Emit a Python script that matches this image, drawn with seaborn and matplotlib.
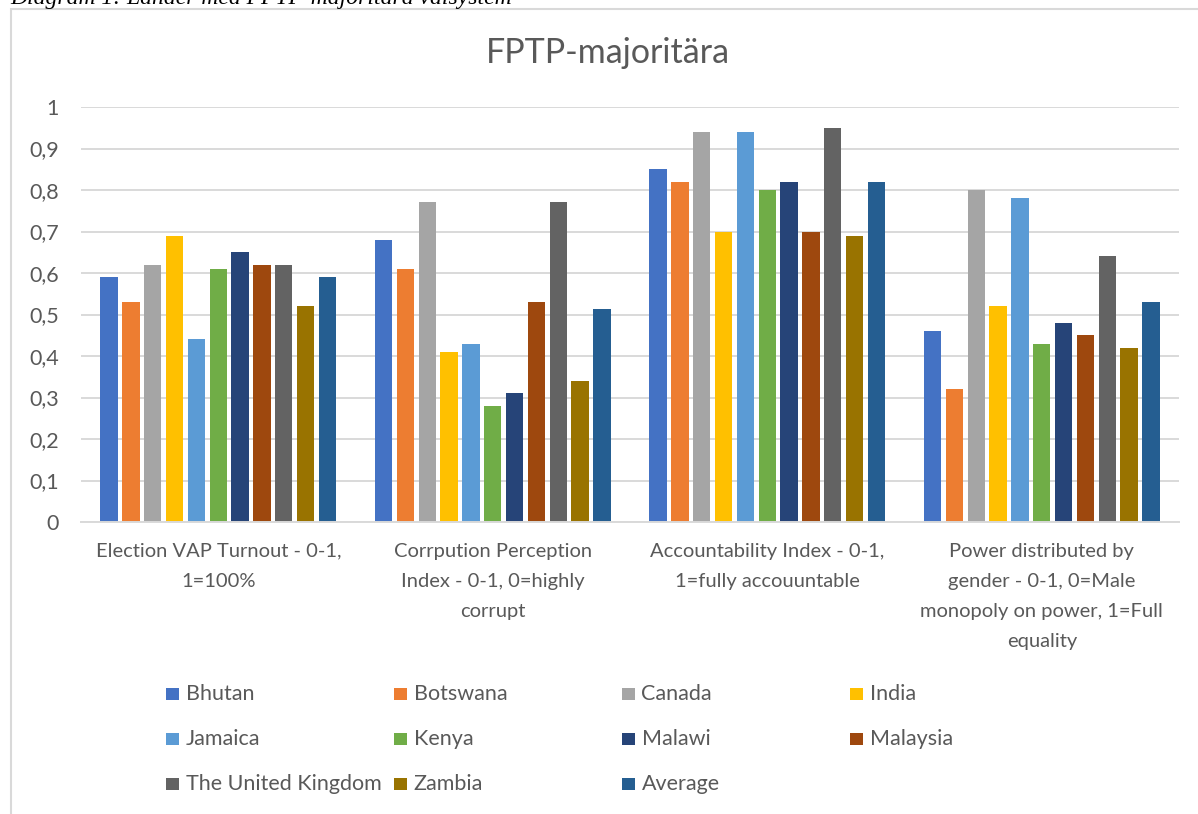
import numpy as np
import pandas as pd
import matplotlib
matplotlib.use("Agg")
import matplotlib.pyplot as plt
from matplotlib.patches import Rectangle
import seaborn as sns

# ---- data ----
categories = [
    "Election VAP Turnout - 0-1,\n1=100%",
    "Corrpution Perception\nIndex - 0-1, 0=highly\ncorrupt",
    "Accountability Index - 0-1,\n1=fully accouuntable",
    "Power distributed by\ngender - 0-1, 0=Male\nmonopoly on power, 1=Full\nequality",
]
countries = ["Bhutan", "Botswana", "Canada", "India", "Jamaica", "Kenya",
             "Malawi", "Malaysia", "The United Kingdom", "Zambia", "Average"]
turnout        = [0.59, 0.53, 0.62, 0.69, 0.44, 0.61, 0.65, 0.62, 0.62, 0.52, 0.59]
corruption     = [0.68, 0.61, 0.77, 0.41, 0.43, 0.28, 0.31, 0.53, 0.77, 0.34, 0.513]
accountability = [0.85, 0.82, 0.94, 0.70, 0.94, 0.80, 0.82, 0.70, 0.95, 0.69, 0.82]
gender_power   = [0.46, 0.32, 0.80, 0.52, 0.78, 0.43, 0.48, 0.45, 0.64, 0.42, 0.53]
colors = ["#4472C4", "#ED7D31", "#A5A5A5", "#FFC000", "#5B9BD5", "#70AD47",
          "#264478", "#9E480E", "#636363", "#997300", "#255E91"]
ytick_values = [0.0, 0.1, 0.2, 0.3, 0.4, 0.5, 0.6, 0.7, 0.8, 0.9, 1.0]
ytick_labels = ["0", "0,1", "0,2", "0,3", "0,4", "0,5", "0,6", "0,7", "0,8", "0,9", "1"]
title = "FPTP-majoritära"
caption = "Diagram 1: Länder med FPTP-majoritära valsystem"

series = [turnout, corruption, accountability, gender_power]
rows = []
for cat, vals in zip(categories, series):
    for c, v in zip(countries, vals):
        rows.append({"category": cat, "country": c, "value": v})
df = pd.DataFrame(rows)

# ---- style ----
sns.set_style("white")
FONT = ["Lato", "DejaVu Sans"]
plt.rcParams["font.family"] = FONT
TXT = "#595959"
GRID = "#D9D9D9"

W, H = 1198, 814
fig = plt.figure(figsize=(W / 100, H / 100), dpi=100)
ax = fig.add_axes([81 / W, 1 - 522 / H, (1179 - 81) / W, (522 - 107) / H])

sns.barplot(data=df, x="category", y="value", hue="country", order=categories,
            hue_order=countries, palette=colors, saturation=1, width=0.875,
            gap=0.2, legend=False, ax=ax, errorbar=None, linewidth=0)

ax.set_ylim(0, 1)
ax.set_xlim(-0.5, len(categories) - 0.5)
ax.set_yticks(ytick_values)
ax.set_yticklabels(ytick_labels)
ax.set_xlabel("")
ax.set_ylabel("")
ax.yaxis.grid(True, color=GRID, lw=1.4)
ax.xaxis.grid(False)
ax.set_axisbelow(True)
for s in ["top", "right", "left"]:
    ax.spines[s].set_visible(False)
ax.spines["bottom"].set_color(GRID)
ax.spines["bottom"].set_linewidth(1.4)
ax.tick_params(axis="y", length=0, pad=16, labelsize=15.5, labelcolor=TXT)
ax.tick_params(axis="x", length=0, pad=15, labelsize=14.5, labelcolor=TXT)
for lab in ax.get_xticklabels():
    lab.set_linespacing(1.93)
    lab.set_ha("center")

# title & caption
fig.text(608 / W, 1 - 53 / H, title, ha="center", va="center",
         fontsize=24.5, color=TXT)
fig.text(10 / W, 1 - 4 / H, caption, ha="left", va="baseline",
         fontsize=17, style="italic", family=["Liberation Serif", "DejaVu Serif"],
         color="black")

# chart border
fig.add_artist(Rectangle((11 / W, -0.1), 1.5, 1.1 - 9 / H, transform=fig.transFigure,
                         fill=False, ec=GRID, lw=1.5))

# legend (Excel-like fixed grid, row-major)
col_x = [166, 394, 622, 850]
row_y = [694, 739, 784]
sq = 12.5
for i, (c, col) in enumerate(zip(countries, colors)):
    r, k = divmod(i, 4)
    x0, yc = col_x[k], row_y[r]
    fig.add_artist(Rectangle((x0 / W, 1 - (yc + sq / 2) / H), sq / W, sq / H,
                             transform=fig.transFigure, fc=col, ec="none"))
    fig.text((x0 + sq + 7) / W, 1 - yc / H, c, ha="left", va="center",
             fontsize=15.5, color=TXT)

fig.savefig("out.png", dpi=100)
